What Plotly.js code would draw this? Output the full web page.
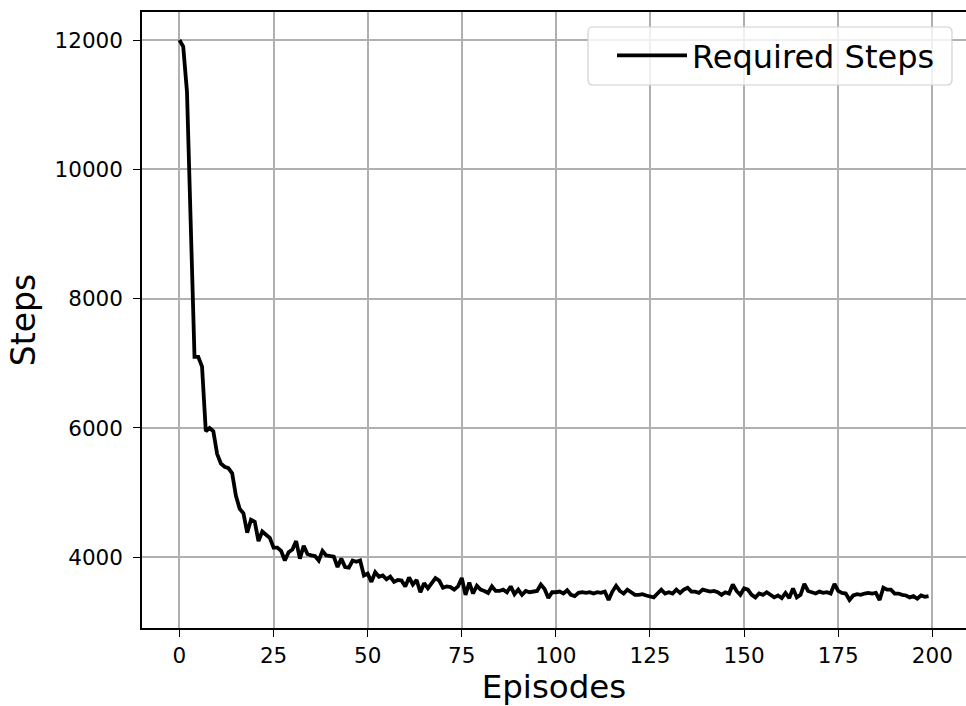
<!DOCTYPE html>
<html><head><meta charset="utf-8">
<script src="https://cdn.plot.ly/plotly-3.0.1.min.js"></script>
<style>html,body{margin:0;padding:0;background:#fff}#c{width:966px;height:706px}</style>
</head><body><div id="c"></div>
<script>
const steps = [12000,11900,11200,9000,7100,7100,6950,5950,6000,5950,
5600,5450,5400,5380,5300,4950,4750,4680,4380,4580,
4550,4250,4400,4350,4300,4150,4150,4100,3950,4080,
4120,4250,3980,4180,4050,4030,4020,3950,4100,4030,
4020,4010,3850,3980,3850,3840,3950,3930,3950,3720,
3750,3620,3770,3700,3720,3660,3700,3620,3650,3640,
3550,3690,3580,3650,3460,3600,3520,3610,3680,3640,
3530,3550,3540,3500,3550,3680,3420,3610,3440,3560,
3500,3480,3450,3550,3480,3480,3500,3460,3550,3430,
3500,3420,3480,3460,3470,3480,3580,3510,3370,3460,
3460,3470,3440,3490,3420,3400,3450,3460,3450,3460,
3440,3460,3450,3470,3340,3470,3560,3480,3440,3500,
3460,3420,3420,3430,3410,3400,3380,3440,3500,3440,
3460,3440,3500,3450,3500,3530,3470,3470,3450,3500,
3480,3470,3480,3460,3420,3460,3440,3580,3480,3420,
3520,3500,3420,3380,3440,3420,3460,3420,3380,3410,
3370,3450,3370,3520,3380,3420,3590,3480,3460,3440,
3470,3450,3460,3440,3590,3480,3450,3440,3340,3410,
3430,3420,3440,3450,3440,3450,3340,3530,3500,3500,
3440,3440,3420,3410,3380,3400,3360,3410,3390,3400];
const episodes = steps.map((_, i) => i);
const seriesName = "Required Steps";
const xTicks = [0,25,50,75,100,125,150,175,200];
const yTicks = [4000,6000,8000,10000,12000];

const font = "DejaVu Sans, sans-serif";
// legend frame (rounded) in paper coordinates
const L = 142, T = 12, W = 824, H = 616;
const px = v => (v - L) / W, py = v => (T + H - v) / H;
const bx0 = 588, bx1 = 952, by0 = 27, by1 = 85, r = 5;
const framePath = `M${px(bx0+r)},${py(by0)} L${px(bx1-r)},${py(by0)} Q${px(bx1)},${py(by0)} ${px(bx1)},${py(by0+r)} ` +
  `L${px(bx1)},${py(by1-r)} Q${px(bx1)},${py(by1)} ${px(bx1-r)},${py(by1)} L${px(bx0+r)},${py(by1)} ` +
  `Q${px(bx0)},${py(by1)} ${px(bx0)},${py(by1-r)} L${px(bx0)},${py(by0+r)} Q${px(bx0)},${py(by0)} ${px(bx0+r)},${py(by0)} Z`;

Plotly.newPlot("c", [{
  x: episodes, y: steps, type: "scatter", mode: "lines", name: seriesName,
  line: {color: "#000", width: 3.8}
}], {
  width: 966, height: 706,
  margin: {l: 142, r: 0, t: 12, b: 78, pad: 0},
  paper_bgcolor: "#fff", plot_bgcolor: "#fff",
  font: {family: font, color: "#000"},
  showlegend: true,
  legend: {x: px(940), y: py(28), xanchor: "right", yanchor: "top",
    bgcolor: "rgba(0,0,0,0)", borderwidth: 0, itemwidth: 70,
    font: {size: 32, family: font}},
  shapes: [{type: "path", xref: "paper", yref: "paper", path: framePath,
    fillcolor: "rgba(255,255,255,0.8)", line: {color: "#d0d0d0", width: 1.2}, layer: "above"}],
  xaxis: {range: [-9.95, 208.95], tickvals: xTicks, ticks: "outside", ticklen: 7, tickwidth: 1.3,
    tickcolor: "#000", showline: true, linecolor: "#000", linewidth: 1.5, mirror: true,
    showgrid: true, gridcolor: "#b0b0b0", gridwidth: 1.5, zeroline: false,
    tickfont: {size: 21.5, family: font}, ticklabelstandoff: 0,
    title: {text: "Episodes", font: {size: 32.5, family: font}, standoff: 9}},
  yaxis: {range: [2907, 12433], tickvals: yTicks, ticks: "outside", ticklen: 7, tickwidth: 1.3,
    tickcolor: "#000", showline: true, linecolor: "#000", linewidth: 1.5, mirror: true,
    showgrid: true, gridcolor: "#b0b0b0", gridwidth: 1.5, zeroline: false,
    tickfont: {size: 21.5, family: font}, tickformat: "d", ticklabelstandoff: 6,
    title: {text: "Steps", font: {size: 33, family: font}, standoff: 9}}
}, {displayModeBar: false});
</script></body></html>
